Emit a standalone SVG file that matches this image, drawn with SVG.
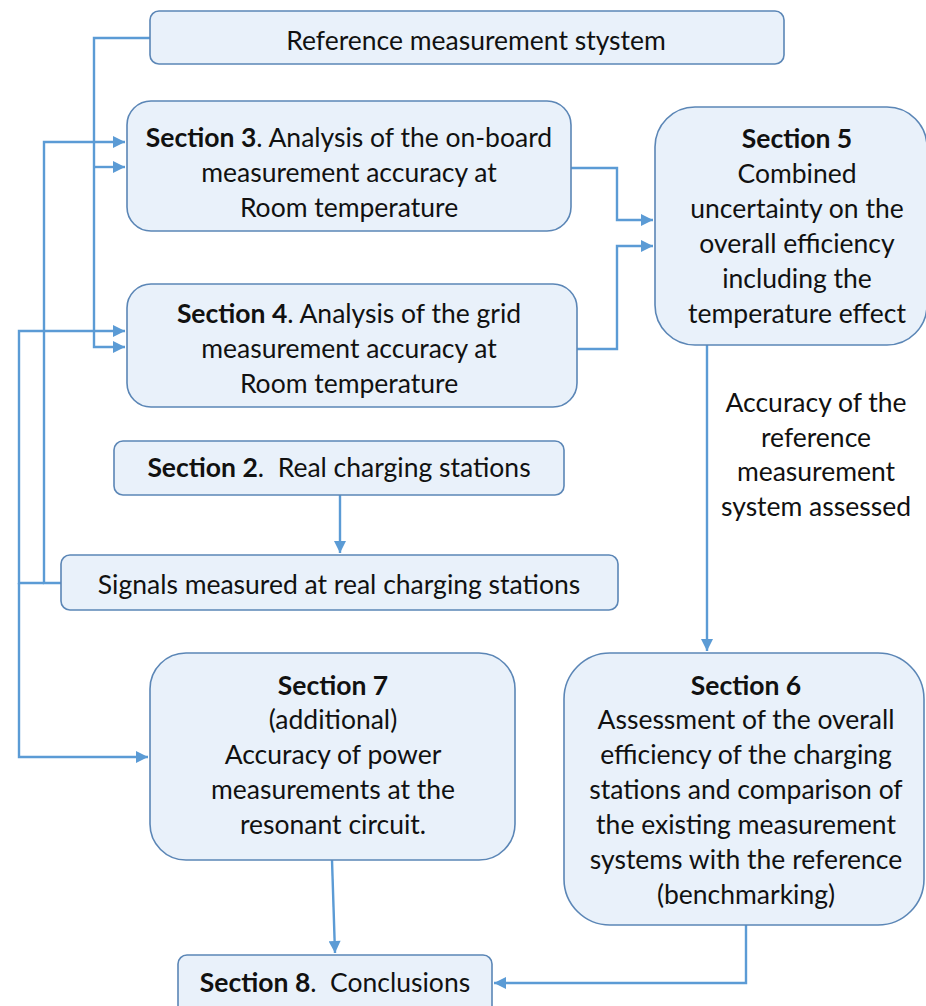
<svg xmlns="http://www.w3.org/2000/svg" width="926" height="1006" viewBox="0 0 926 1006">
<defs>
<style>
.box{fill:#E9F1FA;stroke:#5B86B6;stroke-width:1.6}
.t{font-family:Lato,"Liberation Sans",sans-serif;font-size:26.5px;fill:#111;text-anchor:middle;white-space:pre}
.b{font-weight:bold}
.c{fill:none;stroke:#5B9BD5;stroke-width:2.4}
</style>
<marker id="ah" viewBox="0 0 10 10" refX="10" refY="5" markerWidth="5.5" markerHeight="5" orient="auto" markerUnits="strokeWidth">
<path d="M0,0 L10,5 L0,10 z" fill="#5B9BD5"/>
</marker>
</defs>
<rect width="926" height="1006" fill="#fff"/>
<g id="connectors">
<path class="c" d="M150,38 H94 V347 H125" marker-end="url(#ah)"/>
<path class="c" d="M94,167 H125" marker-end="url(#ah)"/>
<path class="c" d="M61,583 H44 V142 H125" marker-end="url(#ah)"/>
<path class="c" d="M44,583 H19 V331 H125" marker-end="url(#ah)"/>
<path class="c" d="M19,583 V757 H148" marker-end="url(#ah)"/>
<path class="c" d="M571,168 H617 V220 H653" marker-end="url(#ah)"/>
<path class="c" d="M577,349 H617 V246 H653" marker-end="url(#ah)"/>
<path class="c" d="M340,495 V553" marker-end="url(#ah)"/>
<path class="c" d="M707,345 V651" marker-end="url(#ah)"/>
<path class="c" d="M332,860 L335,953" marker-end="url(#ah)"/>
<path class="c" d="M746,925 V983 H494" marker-end="url(#ah)"/>
</g>
<g id="ref">
<rect class="box" x="150" y="11" width="634" height="53" rx="9"/>
<text class="t" x="476" y="50">Reference measurement stystem</text>
</g>
<g id="s3">
<rect class="box" x="127" y="101" width="444" height="130" rx="24"/>
<text class="t" x="349" y="147"><tspan class="b">Section 3</tspan>. Analysis of the on-board</text>
<text class="t" x="349" y="182">measurement accuracy at</text>
<text class="t" x="349" y="217">Room temperature</text>
</g>
<g id="s4">
<rect class="box" x="127" y="284" width="450" height="123" rx="24"/>
<text class="t" x="349" y="323"><tspan class="b">Section 4</tspan>. Analysis of the grid</text>
<text class="t" x="349" y="358">measurement accuracy at</text>
<text class="t" x="349" y="393">Room temperature</text>
</g>
<g id="s5">
<rect class="box" x="655" y="107" width="272" height="238" rx="40"/>
<text class="t" x="797" y="148"><tspan class="b">Section 5</tspan></text>
<text class="t" x="797" y="183">Combined</text>
<text class="t" x="797" y="218">uncertainty on the</text>
<text class="t" x="797" y="253">overall efficiency</text>
<text class="t" x="797" y="288">including the</text>
<text class="t" x="797" y="323">temperature effect</text>
</g>
<g id="label">
<text class="t" x="816" y="412">Accuracy of the</text>
<text class="t" x="816" y="447">reference</text>
<text class="t" x="816" y="481">measurement</text>
<text class="t" x="816" y="516">system assessed</text>
</g>
<g id="s2">
<rect class="box" x="114" y="441" width="450" height="54" rx="9"/>
<text class="t" x="339" y="477" xml:space="preserve"><tspan class="b">Section 2</tspan>.  Real charging stations</text>
</g>
<g id="signals">
<rect class="box" x="61" y="555" width="557" height="55" rx="9"/>
<text class="t" x="339" y="594">Signals measured at real charging stations</text>
</g>
<g id="s7">
<rect class="box" x="150" y="653" width="365" height="207" rx="36"/>
<text class="t" x="333" y="695"><tspan class="b">Section 7</tspan></text>
<text class="t" x="333" y="729">(additional)</text>
<text class="t" x="333" y="764">Accuracy of power</text>
<text class="t" x="333" y="799">measurements at the</text>
<text class="t" x="333" y="834">resonant circuit.</text>
</g>
<g id="s6">
<rect class="box" x="564" y="653" width="360" height="272" rx="46"/>
<text class="t" x="746" y="695"><tspan class="b">Section 6</tspan></text>
<text class="t" x="746" y="729">Assessment of the overall</text>
<text class="t" x="746" y="764">efficiency of the charging</text>
<text class="t" x="746" y="799">stations and comparison of</text>
<text class="t" x="746" y="834">the existing measurement</text>
<text class="t" x="746" y="869">systems with the reference</text>
<text class="t" x="746" y="904">(benchmarking)</text>
</g>
<g id="s8">
<rect class="box" x="178" y="955" width="314" height="60" rx="9"/>
<text class="t" x="335" y="992" xml:space="preserve"><tspan class="b">Section 8</tspan>.  Conclusions</text>
</g>
</svg>
